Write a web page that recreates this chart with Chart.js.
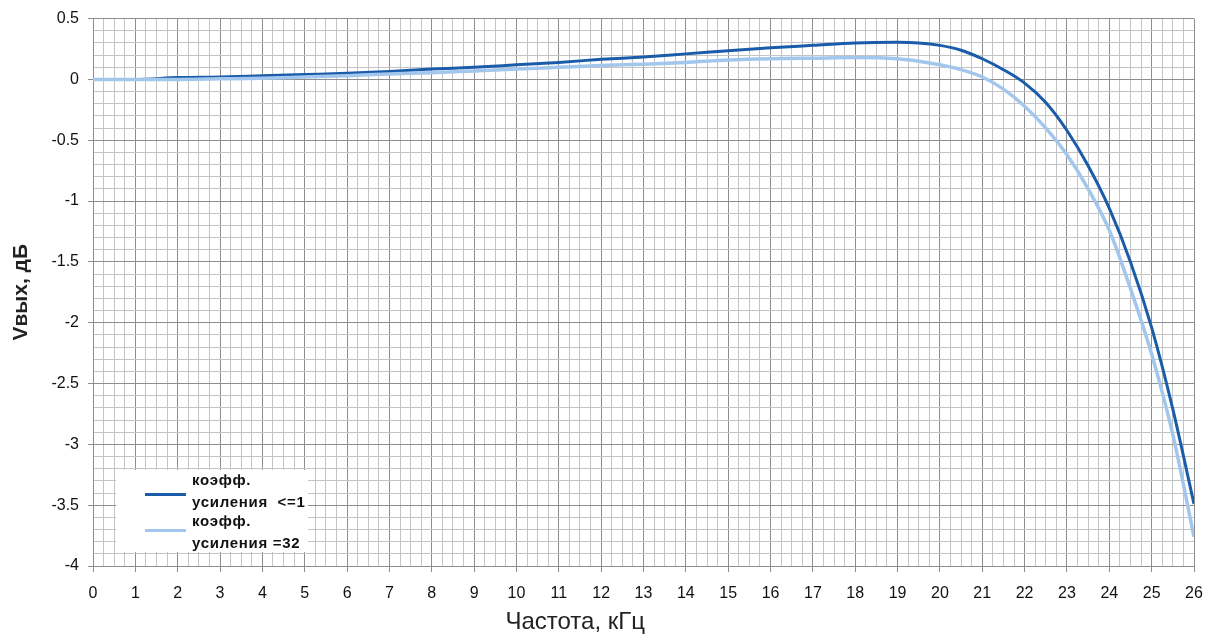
<!DOCTYPE html>
<html>
<head>
<meta charset="utf-8">
<script src="https://cdn.jsdelivr.net/npm/chart.js@4/dist/chart.umd.min.js"></script>
<style>
  html, body { margin: 0; padding: 0; background: #ffffff; }
  #wrap { position: relative; width: 1219px; height: 643px; }
  #legend { position: absolute; left: 116px; top: 470px; width: 192px; height: 82px; background: #ffffff;
            font-family: "Liberation Sans", Arial, sans-serif; font-weight: bold; font-size: 15px; letter-spacing: 0.7px; color: #111; }
  .item { position: absolute; left: 0; }
  .swatch { position: absolute; left: 29px; width: 41px; height: 3px; }
  .txt { position: absolute; left: 76px; top: -1px; white-space: pre; line-height: 22px; }
</style>
</head>
<body>
<div id="wrap">
  <canvas id="c" width="1219" height="643"></canvas>
  <div id="legend"></div>
</div>
<script>
// Frequency, kHz
const freqs = [0,1,2,3,4,5,6,7,8,9,10,11,12,13,14,15,16,17,18,19,19.5,20,20.5,21,21.5,22,22.5,23,23.5,24,24.5,25,25.5,26];
// Output, dB — gain <= 1
const gainLow = [0,0,0.015,0.02,0.03,0.04,0.05,0.065,0.085,0.10,0.12,0.14,0.165,0.185,0.21,0.235,0.26,0.28,0.30,0.305,0.30,0.28,0.24,0.17,0.08,-0.03,-0.19,-0.42,-0.71,-1.06,-1.50,-2.04,-2.71,-3.49];
// Output, dB — gain = 32
const gainHigh = [0,0,0,0.005,0.01,0.02,0.03,0.045,0.055,0.07,0.085,0.10,0.115,0.125,0.14,0.16,0.17,0.175,0.18,0.17,0.15,0.12,0.08,0.02,-0.08,-0.22,-0.40,-0.62,-0.90,-1.24,-1.72,-2.26,-2.92,-3.76];
const seriesNames = ["коэфф.\nусиления  <=1", "коэфф.\nусиления =32"];
const seriesColors = ["#1a5ca9", "#a3c7ec"];
const xTitle = "Частота, кГц";
const yTitle = "Vвых, дБ";

const FONT = '"Liberation Sans", Arial, sans-serif';
const toPts = (vals) => freqs.map((f, i) => ({x: f, y: vals[i]}));
const isMajorY = v => Math.abs(v * 2 - Math.round(v * 2)) < 1e-6;
const isMajorX = v => Math.abs(v - Math.round(v)) < 1e-6;

// x-axis title, placed under the axis slightly left of centre as in the original
const xTitlePlugin = {
  id: 'xTitlePlugin',
  afterDraw(chart) {
    const {ctx, chartArea} = chart;
    ctx.save();
    ctx.font = '24px ' + FONT;
    ctx.fillStyle = '#222';
    ctx.textAlign = 'center';
    ctx.textBaseline = 'middle';
    ctx.fillText(xTitle, chartArea.left + (chartArea.right - chartArea.left) * 0.438, 622);
    ctx.restore();
  }
};

const chart = new Chart(document.getElementById('c'), {
  type: 'line',
  data: {
    datasets: [
      { label: seriesNames[0], data: toPts(gainLow), borderColor: seriesColors[0], borderWidth: 3, pointRadius: 0,
        cubicInterpolationMode: 'monotone', order: 1 },
      { label: seriesNames[1], data: toPts(gainHigh), borderColor: seriesColors[1], borderWidth: 3.5, pointRadius: 0,
        cubicInterpolationMode: 'monotone', order: 0 }
    ]
  },
  plugins: [xTitlePlugin],
  options: {
    responsive: false,
    animation: false,
    devicePixelRatio: 1,
    layout: { padding: { left: 0, right: 25, top: 17, bottom: 0 } },
    plugins: { legend: { display: false }, tooltip: { enabled: false } },
    scales: {
      x: {
        type: 'linear', min: 0, max: 26,
        afterFit: s => { s.height = 77; },
        ticks: {
          stepSize: 0.25, autoSkip: false, maxRotation: 0, padding: 12,
          color: '#111', font: { family: FONT, size: 16 },
          callback: v => isMajorX(v) ? String(Math.round(v)) : ''
        },
        grid: {
          color: ctx => isMajorX(ctx.tick.value) ? '#8e8e8e' : '#c4c4c4',
          tickColor: ctx => isMajorX(ctx.tick.value) ? '#8e8e8e' : 'rgba(0,0,0,0)',
          tickLength: 6, lineWidth: 1
        },
        border: { color: '#8e8e8e' },
        title: { display: false, text: xTitle }
      },
      y: {
        min: -4, max: 0.5,
        afterFit: s => { s.width = 93; },
        ticks: {
          stepSize: 0.1, autoSkip: false, padding: 9,
          color: '#111', font: { family: FONT, size: 16 },
          callback: v => isMajorY(v) ? String(Math.round(v * 2) / 2) : ''
        },
        grid: {
          color: ctx => isMajorY(ctx.tick.value) ? '#8e8e8e' : '#c4c4c4',
          tickColor: ctx => isMajorY(ctx.tick.value) ? '#8e8e8e' : 'rgba(0,0,0,0)',
          tickLength: 5, lineWidth: 1
        },
        border: { color: '#8e8e8e' },
        title: { display: true, text: yTitle, color: '#222', padding: { top: 9, bottom: 0 },
                 font: { family: FONT, size: 21, weight: 'bold' } }
      }
    }
  }
});

// HTML legend built from the dataset definitions
const leg = document.getElementById('legend');
const swatchTops = [23, 18];
chart.data.datasets.forEach((ds, i) => {
  const item = document.createElement('div');
  item.className = 'item';
  item.style.top = (i * 41) + 'px';
  const sw = document.createElement('div');
  sw.className = 'swatch';
  sw.style.background = ds.borderColor;
  sw.style.top = swatchTops[i] + 'px';
  const tx = document.createElement('div');
  tx.className = 'txt';
  tx.textContent = ds.label;
  item.appendChild(sw);
  item.appendChild(tx);
  leg.appendChild(item);
});
</script>
</body>
</html>
